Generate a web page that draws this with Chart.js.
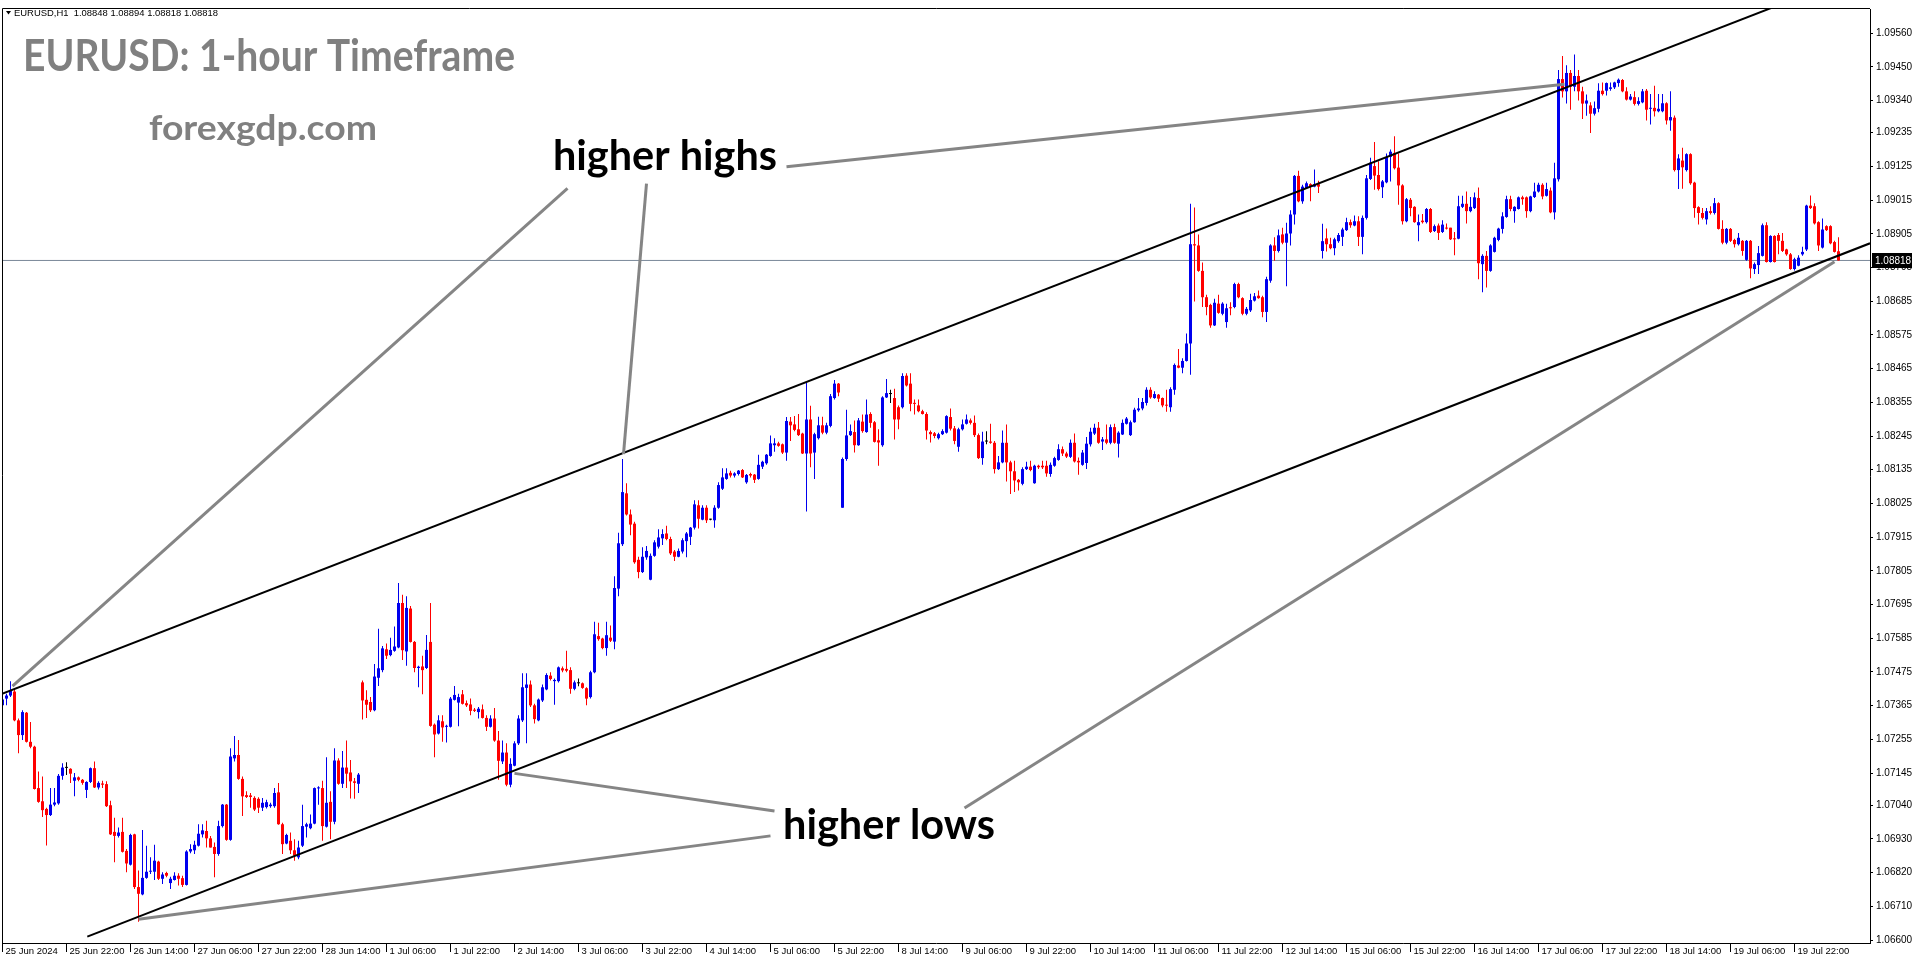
<!DOCTYPE html>
<html>
<head>
<meta charset="utf-8">
<title>EURUSD H1</title>
<script src="https://cdn.jsdelivr.net/npm/chart.js@4.4.1/dist/chart.umd.min.js"></script>
<style>
html,body{margin:0;padding:0;background:#ffffff;overflow:hidden;}
#box{position:relative;width:1916px;height:964px;}
canvas{display:block;}
</style>
</head>
<body>
<div id="box"><canvas id="chart" width="1916" height="964"></canvas></div>
<script>
// ---- hourly candles, 25 Jun 2024 06:00 .. 22 Jul 2024 09:00 ----
const opens = [
1.07366,1.07388,1.07398,1.07411,1.07317,1.07269,1.07342,1.07247,1.07231,1.07096,
1.07053,1.07028,1.07008,1.07042,1.07046,1.07136,1.07162,1.07159,1.07120,1.07131,
1.07123,1.07090,1.07116,1.07161,1.07098,1.07111,1.07109,1.07040,1.06953,1.06940,
1.06953,1.06891,1.06846,1.06945,1.06773,1.06749,1.06803,1.06823,1.06823,1.06856,
1.06800,1.06819,1.06786,1.06796,1.06810,1.06802,1.06780,1.06889,1.06893,1.06908,
1.06945,1.06956,1.06932,1.06904,1.06881,1.06972,1.07042,1.06927,1.07193,1.07204,
1.07126,1.07073,1.07072,1.07064,1.07061,1.07032,1.07034,1.07037,1.07037,1.07082,
1.06978,1.06915,1.06924,1.06893,1.06870,1.06908,1.06970,1.06965,1.06980,1.07095,
1.07096,1.06970,1.07051,1.06986,1.07186,1.07110,1.07163,1.07147,1.07118,1.07110,
1.07441,1.07384,1.07377,1.07350,1.07456,1.07481,1.07549,1.07530,1.07544,1.07555,
1.07700,1.07542,1.07682,1.07573,1.07488,1.07493,1.07488,1.07573,1.07303,1.07274,
1.07314,1.07296,1.07296,1.07384,1.07375,1.07402,1.07373,1.07369,1.07352,1.07344,
1.07353,1.07325,1.07296,1.07323,1.07251,1.07183,1.07212,1.07107,1.07169,1.07242,
1.07317,1.07423,1.07434,1.07366,1.07317,1.07382,1.07418,1.07463,1.07445,1.07445,
1.07487,1.07485,1.07481,1.07420,1.07438,1.07438,1.07422,1.07393,1.07474,1.07592,
1.07584,1.07553,1.07587,1.07574,1.07747,1.07892,1.08058,1.07989,1.07959,1.07841,
1.07801,1.07849,1.07776,1.07854,1.07884,1.07911,1.07927,1.07909,1.07868,1.07851,
1.07868,1.07902,1.07916,1.07946,1.08019,1.07972,1.08011,1.07972,1.07970,1.08011,
1.08073,1.08105,1.08125,1.08116,1.08121,1.08134,1.08094,1.08121,1.08119,1.08105,
1.08145,1.08156,1.08180,1.08215,1.08221,1.08218,1.08191,1.08292,1.08283,1.08267,
1.08253,1.08188,1.08299,1.08191,1.08238,1.08280,1.08256,1.08278,1.08369,1.08416,
1.08011,1.08170,1.08248,1.08258,1.08215,1.08292,1.08258,1.08317,1.08290,1.08231,
1.08215,1.08371,1.08382,1.08369,1.08339,1.08339,1.08442,1.08416,1.08351,1.08345,
1.08326,1.08317,1.08258,1.08254,1.08238,1.08251,1.08256,1.08307,1.08270,1.08210,
1.08267,1.08285,1.08296,1.08288,1.08248,1.08173,1.08227,1.08227,1.08223,1.08137,
1.08159,1.08223,1.08159,1.08130,1.08102,1.08089,1.08137,1.08145,1.08091,1.08148,
1.08148,1.08148,1.08121,1.08148,1.08167,1.08202,1.08188,1.08177,1.08223,1.08164,
1.08151,1.08157,1.08218,1.08253,1.08272,1.08227,1.08234,1.08223,1.08274,1.08220,
1.08250,1.08285,1.08248,1.08290,1.08329,1.08335,1.08353,1.08396,1.08369,1.08380,
1.08369,1.08345,1.08339,1.08396,1.08475,1.08468,1.08490,1.08547,1.08871,1.08867,
1.08784,1.08698,1.08673,1.08606,1.08677,1.08644,1.08617,1.08663,1.08666,1.08741,
1.08695,1.08644,1.08655,1.08687,1.08703,1.08698,1.08650,1.08752,1.08867,1.08849,
1.08903,1.08876,1.08906,1.08968,1.09094,1.09011,1.09054,1.09067,1.09059,1.09067,
1.08849,1.08890,1.08871,1.08858,1.08881,1.08895,1.08917,1.08943,1.08932,1.08946,
1.08895,1.08957,1.09084,1.09126,1.09097,1.09057,1.09073,1.09156,1.09169,1.09121,
1.09063,1.08946,1.09016,1.08993,1.08933,1.08948,1.08943,1.08986,1.08914,1.08932,
1.08911,1.08925,1.08925,1.08889,1.08889,1.08993,1.09003,1.08979,1.08989,1.09022,
1.08806,1.08833,1.08784,1.08846,1.08885,1.08921,1.08960,1.09018,1.08979,1.08986,
1.09024,1.09024,1.08979,1.09025,1.09043,1.09065,1.09029,1.09046,1.08975,1.09083,
1.09410,1.09370,1.09430,1.09385,1.09420,1.09370,1.09330,1.09324,1.09297,1.09313,
1.09372,1.09372,1.09378,1.09383,1.09397,1.09407,1.09370,1.09343,1.09351,1.09329,
1.09334,1.09372,1.09313,1.09316,1.09305,1.09305,1.09331,1.09275,1.09284,1.09113,
1.09144,1.09113,1.09165,1.09072,1.08992,1.08973,1.08952,1.08979,1.08973,1.09005,
1.08921,1.08876,1.08921,1.08885,1.08871,1.08882,1.08820,1.08882,1.08790,1.08803,
1.08833,1.08933,1.08813,1.08898,1.08901,1.08882,1.08854,1.08838,1.08790,1.08801,
1.08838,1.08854,1.08997,1.08995,1.08943,1.08860,1.08930,1.08930,1.08878,1.08848
];
const highs = [
1.07393,1.07404,1.07445,1.07420,1.07323,1.07350,1.07344,1.07312,1.07234,1.07150,
1.07134,1.07032,1.07096,1.07096,1.07142,1.07177,1.07180,1.07161,1.07145,1.07134,
1.07126,1.07118,1.07163,1.07183,1.07118,1.07120,1.07118,1.07055,1.06999,1.06967,
1.06999,1.06897,1.06947,1.06947,1.06827,1.06959,1.06908,1.06870,1.06911,1.06859,
1.06821,1.06823,1.06807,1.06821,1.06818,1.06810,1.06893,1.06913,1.06924,1.06978,
1.06978,1.06989,1.06940,1.06918,1.06989,1.07044,1.07044,1.07226,1.07266,1.07253,
1.07134,1.07086,1.07080,1.07069,1.07066,1.07064,1.07058,1.07048,1.07096,1.07113,
1.06983,1.06947,1.06951,1.06929,1.06924,1.07042,1.06983,1.07010,1.07098,1.07102,
1.07120,1.07197,1.07086,1.07226,1.07193,1.07217,1.07251,1.07188,1.07129,1.07145,
1.07447,1.07415,1.07393,1.07501,1.07616,1.07560,1.07568,1.07587,1.07623,1.07765,
1.07727,1.07722,1.07690,1.07576,1.07495,1.07528,1.07596,1.07700,1.07307,1.07334,
1.07334,1.07303,1.07393,1.07429,1.07404,1.07416,1.07382,1.07388,1.07357,1.07361,
1.07369,1.07334,1.07334,1.07357,1.07282,1.07251,1.07242,1.07193,1.07249,1.07334,
1.07471,1.07471,1.07447,1.07371,1.07388,1.07434,1.07471,1.07474,1.07454,1.07493,
1.07493,1.07544,1.07490,1.07447,1.07454,1.07441,1.07425,1.07479,1.07639,1.07636,
1.07587,1.07639,1.07627,1.07787,1.07929,1.08170,1.08091,1.08005,1.07965,1.07851,
1.07882,1.07886,1.07862,1.07905,1.07941,1.07941,1.07952,1.07916,1.07873,1.07878,
1.07911,1.07932,1.07948,1.08035,1.08035,1.08019,1.08019,1.07975,1.08019,1.08094,
1.08140,1.08140,1.08132,1.08127,1.08134,1.08137,1.08121,1.08125,1.08121,1.08184,
1.08164,1.08186,1.08247,1.08238,1.08226,1.08221,1.08307,1.08307,1.08310,1.08317,
1.08256,1.08418,1.08344,1.08256,1.08308,1.08308,1.08288,1.08382,1.08428,1.08418,
1.08175,1.08331,1.08283,1.08296,1.08304,1.08315,1.08364,1.08323,1.08294,1.08267,
1.08375,1.08431,1.08396,1.08399,1.08345,1.08450,1.08450,1.08450,1.08364,1.08364,
1.08331,1.08323,1.08263,1.08258,1.08256,1.08267,1.08313,1.08335,1.08278,1.08272,
1.08299,1.08315,1.08302,1.08312,1.08253,1.08259,1.08261,1.08285,1.08229,1.08180,
1.08263,1.08283,1.08164,1.08164,1.08105,1.08143,1.08161,1.08164,1.08151,1.08151,
1.08164,1.08164,1.08159,1.08177,1.08218,1.08211,1.08194,1.08234,1.08253,1.08175,
1.08199,1.08242,1.08272,1.08285,1.08291,1.08242,1.08283,1.08283,1.08285,1.08261,
1.08299,1.08307,1.08296,1.08337,1.08369,1.08369,1.08404,1.08404,1.08391,1.08382,
1.08371,1.08396,1.08404,1.08482,1.08529,1.08499,1.08580,1.09003,1.08991,1.08903,
1.08811,1.08706,1.08677,1.08693,1.08706,1.08682,1.08677,1.08682,1.08745,1.08745,
1.08698,1.08666,1.08709,1.08712,1.08720,1.08703,1.08765,1.08871,1.08894,1.08919,
1.08925,1.08941,1.08982,1.09097,1.09111,1.09065,1.09076,1.09070,1.09115,1.09078,
1.08938,1.08922,1.08892,1.08892,1.08908,1.08925,1.08957,1.08952,1.08965,1.08962,
1.08965,1.09097,1.09153,1.09205,1.09142,1.09081,1.09167,1.09180,1.09223,1.09167,
1.09067,1.09022,1.09022,1.08995,1.08968,1.08970,1.08989,1.08989,1.08935,1.08939,
1.08949,1.08939,1.08925,1.08911,1.09029,1.09029,1.09043,1.09025,1.09040,1.09056,
1.08838,1.08849,1.08871,1.08895,1.08925,1.08975,1.09029,1.09029,1.08995,1.09027,
1.09029,1.09027,1.09029,1.09072,1.09072,1.09070,1.09072,1.09056,1.09137,1.09440,
1.09485,1.09455,1.09440,1.09490,1.09440,1.09385,1.09360,1.09334,1.09337,1.09396,
1.09399,1.09399,1.09399,1.09401,1.09412,1.09410,1.09383,1.09361,1.09370,1.09351,
1.09378,1.09378,1.09361,1.09388,1.09361,1.09361,1.09334,1.09370,1.09291,1.09165,
1.09186,1.09168,1.09168,1.09075,1.08995,1.08989,1.08989,1.08995,1.09022,1.09008,
1.08949,1.08924,1.08924,1.08889,1.08908,1.08885,1.08885,1.08885,1.08811,1.08865,
1.08939,1.08943,1.08900,1.08900,1.08908,1.08908,1.08856,1.08842,1.08827,1.08835,
1.08863,1.09000,1.09030,1.09005,1.08946,1.08955,1.08933,1.08933,1.08882,1.08894
];
const lows = [
1.07357,1.07366,1.07393,1.07314,1.07210,1.07253,1.07245,1.07226,1.07091,1.07048,
1.07002,1.06909,1.07005,1.07037,1.07042,1.07123,1.07139,1.07113,1.07069,1.07118,
1.07107,1.07064,1.07113,1.07096,1.07091,1.07096,1.07034,1.06943,1.06854,1.06935,
1.06886,1.06821,1.06843,1.06767,1.06660,1.06746,1.06800,1.06816,1.06796,1.06796,
1.06783,1.06805,1.06767,1.06794,1.06778,1.06773,1.06778,1.06883,1.06881,1.06905,
1.06935,1.06902,1.06902,1.06805,1.06875,1.06967,1.06924,1.06924,1.07183,1.07123,
1.07005,1.07064,1.07032,1.07021,1.07015,1.07021,1.07029,1.07032,1.07032,1.06976,
1.06881,1.06913,1.06881,1.06859,1.06864,1.06904,1.06935,1.06962,1.06978,1.07042,
1.06924,1.06967,1.06929,1.06978,1.07107,1.07096,1.07096,1.07062,1.07061,1.07080,
1.07320,1.07325,1.07344,1.07347,1.07429,1.07474,1.07517,1.07526,1.07541,1.07552,
1.07514,1.07495,1.07571,1.07474,1.07425,1.07402,1.07485,1.07296,1.07197,1.07271,
1.07247,1.07245,1.07294,1.07382,1.07298,1.07369,1.07361,1.07334,1.07344,1.07323,
1.07323,1.07282,1.07294,1.07247,1.07123,1.07175,1.07102,1.07099,1.07167,1.07237,
1.07312,1.07242,1.07361,1.07307,1.07314,1.07377,1.07415,1.07447,1.07368,1.07441,
1.07474,1.07474,1.07404,1.07415,1.07428,1.07420,1.07366,1.07388,1.07471,1.07577,
1.07549,1.07528,1.07573,1.07549,1.07722,1.07886,1.07986,1.07921,1.07828,1.07781,
1.07798,1.07841,1.07774,1.07851,1.07878,1.07889,1.07905,1.07857,1.07837,1.07849,
1.07862,1.07849,1.07889,1.07940,1.07943,1.07970,1.07961,1.07970,1.07946,1.08008,
1.08069,1.08102,1.08110,1.08110,1.08116,1.08108,1.08089,1.08110,1.08092,1.08102,
1.08137,1.08151,1.08177,1.08194,1.08210,1.08186,1.08164,1.08229,1.08261,1.08245,
1.08186,1.07999,1.08143,1.08105,1.08234,1.08251,1.08251,1.08274,1.08364,1.08375,
1.08011,1.08164,1.08245,1.08191,1.08213,1.08256,1.08256,1.08272,1.08224,1.08148,
1.08210,1.08369,1.08353,1.08234,1.08267,1.08335,1.08407,1.08326,1.08315,1.08323,
1.08315,1.08234,1.08224,1.08238,1.08234,1.08248,1.08253,1.08263,1.08218,1.08194,
1.08263,1.08283,1.08283,1.08242,1.08170,1.08151,1.08218,1.08220,1.08123,1.08134,
1.08156,1.08097,1.08056,1.08062,1.08067,1.08084,1.08134,1.08130,1.08089,1.08137,
1.08137,1.08112,1.08112,1.08145,1.08164,1.08180,1.08173,1.08173,1.08159,1.08119,
1.08148,1.08137,1.08211,1.08248,1.08220,1.08199,1.08218,1.08218,1.08220,1.08175,
1.08248,1.08283,1.08245,1.08288,1.08324,1.08329,1.08345,1.08367,1.08367,1.08356,
1.08339,1.08324,1.08324,1.08380,1.08466,1.08450,1.08488,1.08445,1.08684,1.08781,
1.08666,1.08639,1.08598,1.08604,1.08644,1.08639,1.08598,1.08639,1.08662,1.08695,
1.08639,1.08639,1.08650,1.08684,1.08693,1.08633,1.08617,1.08745,1.08817,1.08844,
1.08871,1.08734,1.08867,1.08935,1.09008,1.09003,1.09051,1.09011,1.09057,1.09038,
1.08824,1.08847,1.08855,1.08835,1.08876,1.08865,1.08914,1.08925,1.08930,1.08865,
1.08838,1.08952,1.09081,1.09049,1.09046,1.09022,1.09070,1.09076,1.09115,1.09000,
1.08935,1.08943,1.08962,1.08941,1.08881,1.08939,1.08939,1.08908,1.08911,1.08885,
1.08908,1.08919,1.08885,1.08835,1.08887,1.08989,1.08939,1.08975,1.08986,1.08757,
1.08714,1.08730,1.08781,1.08844,1.08881,1.08906,1.08957,1.08979,1.08941,1.08984,
1.09000,1.08957,1.08975,1.09022,1.09040,1.09018,1.09027,1.08972,1.08952,1.09076,
1.09350,1.09330,1.09310,1.09370,1.09340,1.09280,1.09290,1.09234,1.09291,1.09302,
1.09356,1.09356,1.09372,1.09378,1.09385,1.09367,1.09340,1.09340,1.09324,1.09324,
1.09331,1.09275,1.09262,1.09288,1.09302,1.09302,1.09262,1.09241,1.09108,1.09051,
1.09052,1.09108,1.09065,1.08957,1.08935,1.08952,1.08935,1.08968,1.08968,1.08919,
1.08871,1.08871,1.08878,1.08860,1.08867,1.08833,1.08817,1.08760,1.08774,1.08774,
1.08831,1.08811,1.08811,1.08811,1.08838,1.08846,1.08833,1.08788,1.08785,1.08799,
1.08833,1.08849,1.08986,1.08935,1.08849,1.08857,1.08914,1.08871,1.08844,1.08818
];
const closes = [
1.07385,1.07398,1.07415,1.07317,1.07269,1.07344,1.07247,1.07231,1.07093,1.07051,
1.07024,1.07008,1.07042,1.07049,1.07136,1.07163,1.07162,1.07143,1.07131,1.07123,
1.07113,1.07116,1.07161,1.07098,1.07113,1.07107,1.07037,1.06945,1.06940,1.06951,
1.06888,1.06850,1.06943,1.06773,1.06751,1.06803,1.06823,1.06825,1.06859,1.06800,
1.06814,1.06810,1.06800,1.06810,1.06800,1.06780,1.06889,1.06897,1.06911,1.06947,
1.06958,1.06932,1.06902,1.06881,1.06972,1.07042,1.06927,1.07199,1.07204,1.07126,
1.07069,1.07067,1.07067,1.07026,1.07032,1.07048,1.07050,1.07042,1.07080,1.06978,
1.06913,1.06943,1.06893,1.06875,1.06902,1.06972,1.06978,1.06980,1.07096,1.07096,
1.06972,1.07048,1.06986,1.07186,1.07110,1.07163,1.07143,1.07118,1.07113,1.07140,
1.07382,1.07368,1.07350,1.07460,1.07487,1.07552,1.07528,1.07547,1.07558,1.07700,
1.07546,1.07684,1.07573,1.07488,1.07492,1.07481,1.07547,1.07299,1.07271,1.07317,
1.07294,1.07299,1.07388,1.07400,1.07393,1.07371,1.07366,1.07348,1.07348,1.07355,
1.07325,1.07296,1.07323,1.07251,1.07185,1.07212,1.07107,1.07175,1.07242,1.07323,
1.07425,1.07434,1.07366,1.07321,1.07385,1.07425,1.07465,1.07452,1.07449,1.07490,
1.07480,1.07479,1.07420,1.07441,1.07438,1.07423,1.07388,1.07474,1.07598,1.07582,
1.07553,1.07595,1.07577,1.07749,1.07895,1.08062,1.07989,1.07956,1.07833,1.07801,
1.07851,1.07870,1.07854,1.07898,1.07914,1.07925,1.07909,1.07862,1.07851,1.07870,
1.07905,1.07927,1.07946,1.08022,1.07975,1.08011,1.07970,1.07972,1.08011,1.08085,
1.08110,1.08123,1.08116,1.08123,1.08132,1.08110,1.08118,1.08116,1.08102,1.08151,
1.08161,1.08184,1.08221,1.08221,1.08213,1.08191,1.08294,1.08280,1.08265,1.08248,
1.08188,1.08299,1.08188,1.08251,1.08280,1.08256,1.08280,1.08375,1.08416,1.08387,
1.08170,1.08247,1.08261,1.08215,1.08296,1.08261,1.08315,1.08288,1.08226,1.08224,
1.08371,1.08385,1.08382,1.08299,1.08299,1.08441,1.08410,1.08350,1.08350,1.08326,
1.08317,1.08263,1.08251,1.08245,1.08251,1.08261,1.08310,1.08269,1.08229,1.08267,
1.08283,1.08299,1.08288,1.08248,1.08173,1.08227,1.08227,1.08223,1.08137,1.08159,
1.08223,1.08159,1.08130,1.08100,1.08094,1.08137,1.08145,1.08134,1.08148,1.08143,
1.08143,1.08123,1.08151,1.08173,1.08202,1.08188,1.08178,1.08223,1.08162,1.08159,
1.08191,1.08220,1.08259,1.08272,1.08223,1.08234,1.08223,1.08274,1.08223,1.08256,
1.08288,1.08302,1.08290,1.08331,1.08335,1.08356,1.08396,1.08371,1.08382,1.08367,
1.08345,1.08344,1.08398,1.08477,1.08468,1.08490,1.08547,1.08871,1.08867,1.08784,
1.08698,1.08666,1.08606,1.08680,1.08647,1.08677,1.08662,1.08662,1.08741,1.08698,
1.08644,1.08660,1.08689,1.08701,1.08695,1.08650,1.08757,1.08867,1.08849,1.08900,
1.08876,1.08906,1.08968,1.09094,1.09011,1.09059,1.09070,1.09059,1.09067,1.09059,
1.08881,1.08871,1.08858,1.08887,1.08901,1.08919,1.08943,1.08933,1.08946,1.08895,
1.08957,1.09086,1.09137,1.09095,1.09051,1.09076,1.09156,1.09173,1.09119,1.09063,
1.08946,1.09018,1.08989,1.08943,1.08943,1.08943,1.08986,1.08911,1.08930,1.08908,
1.08935,1.08922,1.08887,1.08887,1.08995,1.09003,1.08979,1.08993,1.09024,1.08809,
1.08833,1.08784,1.08867,1.08892,1.08922,1.08962,1.09018,1.08986,1.08993,1.09024,
1.09018,1.08979,1.09027,1.09043,1.09065,1.09027,1.09051,1.08975,1.09086,1.09410,
1.09370,1.09430,1.09385,1.09420,1.09370,1.09330,1.09340,1.09297,1.09315,1.09372,
1.09361,1.09397,1.09383,1.09399,1.09408,1.09370,1.09343,1.09353,1.09329,1.09338,
1.09370,1.09310,1.09316,1.09305,1.09313,1.09331,1.09275,1.09286,1.09113,1.09151,
1.09122,1.09165,1.09070,1.08989,1.08973,1.08957,1.08979,1.08973,1.09005,1.08921,
1.08876,1.08921,1.08882,1.08871,1.08892,1.08849,1.08882,1.08792,1.08806,1.08842,
1.08933,1.08813,1.08898,1.08813,1.08882,1.08849,1.08838,1.08790,1.08822,1.08827,
1.08846,1.08997,1.08989,1.08939,1.08867,1.08919,1.08917,1.08874,1.08846,1.08818
];

// ---- axis labels ----
const xTickIndex = [0,16,32,48,64,80,96,112,128,144,160,176,192,208,224,240,256,272,288,304,320,336,352,368,384,400,416,432,448];
const xTickLabels = ['25 Jun 2024','25 Jun 22:00','26 Jun 14:00','27 Jun 06:00','27 Jun 22:00','28 Jun 14:00','1 Jul 06:00','1 Jul 22:00','2 Jul 14:00','3 Jul 06:00','3 Jul 22:00','4 Jul 14:00','5 Jul 06:00','5 Jul 22:00','8 Jul 14:00','9 Jul 06:00','9 Jul 22:00','10 Jul 14:00','11 Jul 06:00','11 Jul 22:00','12 Jul 14:00','15 Jul 06:00','15 Jul 22:00','16 Jul 14:00','17 Jul 06:00','17 Jul 22:00','18 Jul 14:00','19 Jul 06:00','19 Jul 22:00'];
const yTickLabels = ['1.09560','1.09450','1.09340','1.09235','1.09125','1.09015','1.08905','1.08795','1.08685','1.08575','1.08465','1.08355','1.08245','1.08135','1.08025','1.07915','1.07805','1.07695','1.07585','1.07475','1.07365','1.07255','1.07145','1.07040','1.06930','1.06820','1.06710','1.06600'];

// ---- current bid / header ----
const bidPrice = 1.08818;
const headerText = 'EURUSD,H1  1.08848 1.08894 1.08818 1.08818';

// ---- drawn objects (bar index, price) ----
const upperChannel = [{x:-0.125, y:1.07404}, {x:466.875, y:1.09767}];
const lowerChannel = [{x:21.2, y:1.06611}, {x:466.875, y:1.08874}];
const ptrHighFirst = [{x:2.5, y:1.07429}, {x:141.25, y:1.09053}];
const ptrHighSpike = [{x:161, y:1.09069}, {x:155.25, y:1.08186}];
const ptrHigh17Jul = [{x:196, y:1.09124}, {x:390.5, y:1.09393}];
const ptrLow2Jul   = [{x:128, y:1.07144}, {x:193, y:1.07021}];
const ptrLow26Jun  = [{x:34, y:1.06668}, {x:192, y:1.06940}];
const ptrLow19Jul  = [{x:240.5, y:1.07031}, {x:458, y:1.08814}];

const titleText = 'EURUSD: 1-hour Timeframe';
const siteText = 'forexgdp.com';
const highsText = 'higher highs';
const lowsText = 'higher lows';

// ---- build ----
const N = closes.length;
const bodies = [], wicks = [];
for (let i = 0; i < N; i++) {
  bodies.push({x: i, y: [opens[i], closes[i]]});
  wicks.push({x: i, y: [lows[i], highs[i]]});
}
const BULL = '#0000EE', BEAR = '#FF0000', FLAT = '#000000';
const candleColor = i => closes[i] > opens[i] ? BULL : (closes[i] < opens[i] ? BEAR : FLAT);

function lineDs(pts, color, width, order) {
  return {type: 'line', data: pts, borderColor: color, borderWidth: width, pointRadius: 0,
          pointHoverRadius: 0, fill: false, tension: 0, order: order, borderCapStyle: 'butt'};
}
const bidLine = [{x: -0.125, y: bidPrice}, {x: 466.875, y: bidPrice}];
const GRAY = '#858585';

function fitText(c, text, x, baseline, size, width, color, weight, family) {
  c.save();
  c.font = weight + ' ' + size + 'px ' + family;
  const w = c.measureText(text).width;
  c.translate(x, baseline);
  c.scale(width / w, 1);
  c.fillStyle = color;
  c.textBaseline = 'alphabetic';
  c.textAlign = 'left';
  c.fillText(text, 0, 0);
  c.restore();
}

const decor = {
  id: 'decor',
  afterDraw(chart) {
    const c = chart.ctx, a = chart.chartArea, ys = chart.scales.y;
    c.save();
    c.strokeStyle = '#000'; c.lineWidth = 1;
    c.beginPath();
    c.moveTo(a.left + 0.5, a.bottom);
    c.lineTo(a.left + 0.5, a.top - 0.5);
    c.lineTo(a.right, a.top - 0.5);
    c.stroke();
    // header
    c.fillStyle = '#000';
    c.beginPath(); c.moveTo(6, 11); c.lineTo(11, 11); c.lineTo(8.5, 14.5); c.closePath(); c.fill();
    fitText(c, headerText, 14, 16, 9.5, 204, '#000', 'normal', '"Liberation Sans", Arial, sans-serif');
    // annotations
    const fam = 'Lato, "Open Sans", sans-serif';
    fitText(c, titleText, 23, 71, 44, 492, '#808080', 'bold', fam);
    fitText(c, siteText, 149, 140, 34, 228, '#808080', 'bold', fam);
    fitText(c, highsText, 553, 170, 42, 224, '#000', 'bold', fam);
    fitText(c, lowsText, 783, 839, 42, 212, '#000', 'bold', fam);
    // bid price box
    const py = Math.round(ys.getPixelForValue(bidPrice));
    c.fillStyle = '#000';
    c.fillRect(a.right + 2, py - 7, 40, 15);
    c.fillStyle = '#fff';
    c.font = '10px "Liberation Sans", Arial, sans-serif';
    c.textBaseline = 'middle'; c.textAlign = 'left';
    c.fillText(bidPrice.toFixed(5), a.right + 5, py + 1);
    c.restore();
  }
};

new Chart(document.getElementById('chart'), {
  type: 'bar',
  data: {
    datasets: [
      lineDs(bidLine, '#7A8899', 1, 10),
      {type: 'bar', data: wicks, backgroundColor: ctx => candleColor(ctx.dataIndex), barThickness: 1,
       grouped: false, inflateAmount: 0, borderWidth: 0, order: 6},
      {type: 'bar', data: bodies, backgroundColor: ctx => candleColor(ctx.dataIndex), barThickness: 3,
       minBarLength: 1, grouped: false, inflateAmount: 0, borderWidth: 0, order: 5},
      lineDs(upperChannel, '#000', 2, 3),
      lineDs(lowerChannel, '#000', 2, 3),
      lineDs(ptrHighFirst, GRAY, 3, 1),
      lineDs(ptrHighSpike, GRAY, 3, 1),
      lineDs(ptrHigh17Jul, GRAY, 3, 1),
      lineDs(ptrLow2Jul, GRAY, 3, 1),
      lineDs(ptrLow26Jun, GRAY, 3, 1),
      lineDs(ptrLow19Jul, GRAY, 3, 1)
    ]
  },
  options: {
    responsive: false,
    devicePixelRatio: 1,
    animation: false,
    events: [],
    layout: {padding: {left: 2, top: 1, right: 0, bottom: 0}, autoPadding: false},
    plugins: {legend: {display: false}, tooltip: {enabled: false}},
    scales: {
      x: {
        type: 'linear', min: -0.125, max: 466.875, offset: false,
        grid: {display: true, drawOnChartArea: false, drawTicks: true, tickLength: 9, color: '#000', offset: false},
        border: {display: true, color: '#000', width: 1},
        afterBuildTicks: s => { s.ticks = xTickIndex.map(v => ({value: v})); },
        afterFit: s => { s.height = 21; },
        ticks: {
          autoSkip: false, maxRotation: 0, minRotation: 0, align: 'start', labelOffset: 3, padding: -6,
          color: '#000', font: {family: '"Liberation Sans", Arial, sans-serif', size: 9.5},
          callback: v => { const k = xTickIndex.indexOf(v); return k >= 0 ? xTickLabels[k] : ''; }
        }
      },
      y: {
        type: 'linear', position: 'right', min: 1.065904, max: 1.096387, beginAtZero: false,
        grid: {display: true, drawOnChartArea: false, drawTicks: true, tickLength: 3, color: '#000'},
        border: {display: true, color: '#000', width: 1},
        afterBuildTicks: s => { s.ticks = yTickLabels.map(t => ({value: parseFloat(t)})).reverse(); },
        afterFit: s => { s.width = 46; },
        ticks: {
          autoSkip: false, padding: 3, color: '#000',
          font: {family: '"Liberation Sans", Arial, sans-serif', size: 10},
          callback: v => { const k = yTickLabels.findIndex(t => Math.abs(parseFloat(t) - v) < 1e-7); return k >= 0 ? yTickLabels[k] : ''; }
        }
      }
    }
  },
  plugins: [decor]
});
</script>
</body>
</html>
